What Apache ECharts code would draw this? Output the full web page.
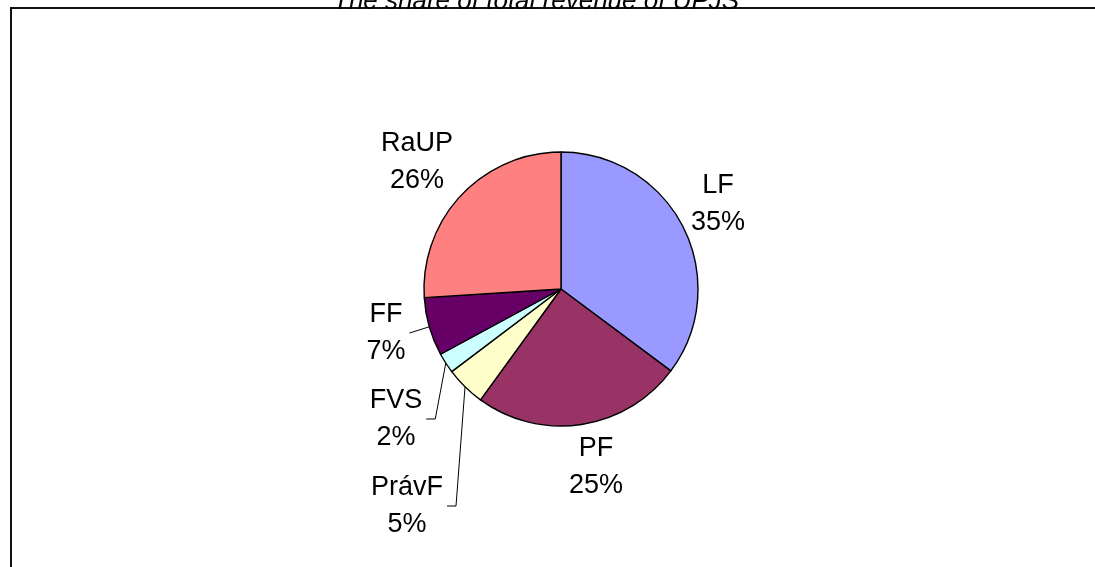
<!DOCTYPE html>
<html>
<head>
<meta charset="utf-8">
<title>The share of total revenue of UPJS</title>
<script src="https://cdn.jsdelivr.net/npm/echarts@6/dist/echarts.min.js"></script>
<style>
  html, body { margin: 0; padding: 0; background: #fff; }
  #chart { width: 1095px; height: 567px; }
</style>
</head>
<body>
<div id="chart"></div>
<script>
// faculty share of revenue (%), clockwise from 12 o'clock
var faculties = ['LF', 'PF', 'PrávF', 'FVS', 'FF', 'RaUP']
var shares = [35.2, 24.8, 4.7, 2.4, 6.9, 26.0]
var sliceColors = ['#9999FF', '#993366', '#FFFFCC', '#CCFFFF', '#660066', '#FF8080']

// where excel put each label (block centre, px) and which ones got a leader line
var labelSpots = [[718, 204], [596, 467], [407, 506], [396, 419], [386, 333], [417, 162]]
var withLeader = [false, false, true, true, true, false]
// horizontal stub of the leader next to the label (0 = straight line)
var leaderStub = [0, 0, 9, 9, 0, 0]

var FONT = 'Liberation Sans, Arial, sans-serif'
var chart = echarts.init(document.getElementById('chart'))

chart.setOption({
  animation: false,
  textStyle: { fontFamily: FONT },
  title: {
    text: 'The share of total revenue of UPJS',
    left: 328,
    top: -16,
    textStyle: {
      fontSize: 26,
      fontStyle: 'italic',
      fontWeight: 'normal',
      color: '#000',
      fontFamily: FONT
    }
  },
  graphic: [
    {
      type: 'rect',
      z: -1,
      shape: { x: 11, y: 8, width: 1200, height: 700 },
      style: { fill: 'none', stroke: '#111', lineWidth: 2 }
    }
  ],
  series: [
    {
      type: 'pie',
      center: [561, 289],
      radius: 137,
      startAngle: 90,
      clockwise: true,
      percentPrecision: 0,
      avoidLabelOverlap: false,
      itemStyle: { borderColor: '#000', borderWidth: 1.4 },
      label: {
        show: true,
        position: 'outside',
        formatter: '{b}\n{d}%',
        fontSize: 27,
        lineHeight: 37,
        color: '#000',
        fontFamily: FONT
      },
      labelLine: {
        show: true,
        length: 10,
        length2: 8,
        lineStyle: { color: '#000', width: 1 }
      },
      labelLayout: function (params) {
        var i = params.dataIndex
        var spot = labelSpots[i]
        var out = {
          x: spot[0],
          y: spot[1],
          align: 'center',
          verticalAlign: 'middle'
        }
        if (withLeader[i] && params.labelLinePoints) {
          var start = params.labelLinePoints[0]
          var edge = spot[0] + params.labelRect.width / 2 + 4
          out.labelLinePoints = [
            start,
            [edge + leaderStub[i], spot[1]],
            [edge, spot[1]]
          ]
        }
        return out
      },
      emphasis: { disabled: true },
      data: faculties.map(function (name, i) {
        return {
          name: name,
          value: shares[i],
          itemStyle: { color: sliceColors[i] },
          labelLine: { show: withLeader[i] }
        }
      })
    }
  ]
})
</script>
</body>
</html>
